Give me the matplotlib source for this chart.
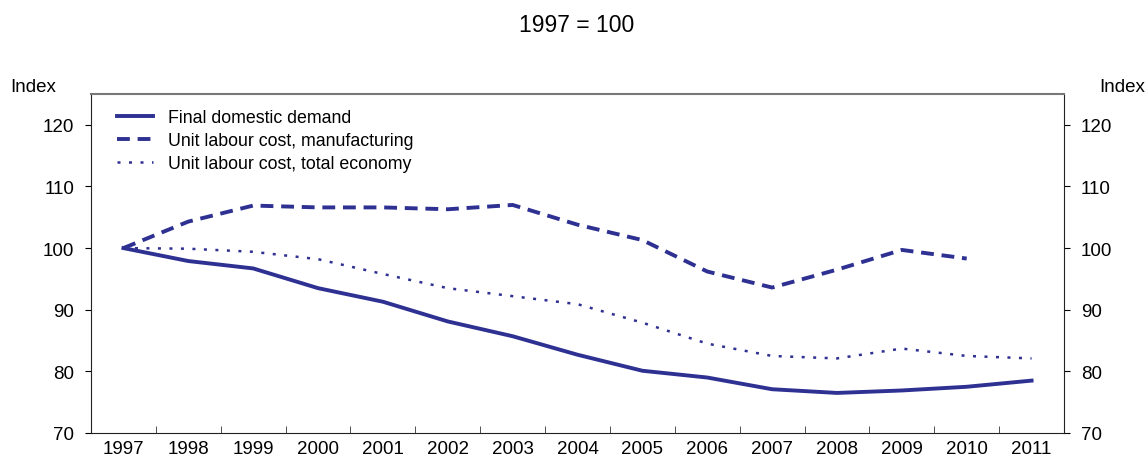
import numpy as np
import matplotlib
matplotlib.use('Agg')
import matplotlib.pyplot as plt

plt.rcParams['font.family'] = ['Liberation Sans', 'DejaVu Sans']

years = list(range(1997, 2012))
final_demand = [100, 97.9, 96.7, 93.5, 91.3, 88.1, 85.7, 82.7, 80.1, 79.0, 77.1, 76.5, 76.9, 77.5, 78.5]
ulc_manuf = [100, 104.3, 106.9, 106.6, 106.6, 106.3, 107.0, 103.8, 101.3, 96.2, 93.6, 96.5, 99.7, 98.3]
ulc_total = [100, 99.9, 99.4, 98.2, 95.8, 93.5, 92.2, 90.9, 87.9, 84.5, 82.5, 82.1, 83.7, 82.5, 82.1]

col = '#2e3192'
fs = 13.5

fig = plt.figure(figsize=(11.47, 4.56), dpi=100)
ax = fig.add_axes([91/1147, 1-434/456, (1064-91)/1147, (434-95)/456])

ax.plot(years, final_demand, color=col, lw=2.8, label='Final domestic demand')
ax.plot(years[:len(ulc_manuf)], ulc_manuf, color=col, lw=2.8, dashes=(3.3, 2.0),
        label='Unit labour cost, manufacturing')
ax.plot(years, ulc_total, color=col, lw=1.8, dashes=(1.2, 3.4), label='Unit labour cost, total economy')

ax.set_xlim(1996.5, 2011.5)
ax.set_ylim(70, 125)
ax.set_xticks(years)
ax.set_xticklabels([str(y) for y in years], fontsize=fs)
ax.set_xticks(np.arange(1997.5, 2011, 1), minor=True)
ax.tick_params(axis='x', which='major', length=0, pad=5)
ax.tick_params(axis='x', which='minor', direction='in', length=5, color='#333333')
ax.set_yticks([70, 80, 90, 100, 110, 120])
ax.tick_params(axis='y', which='major', direction='out', length=4, labelsize=fs,
               left=True, right=True, labelleft=True, labelright=True, pad=8)
for side in ['left', 'bottom', 'right']:
    ax.spines[side].set_color('#222222')
ax.spines['top'].set_color('#777777')
ax.spines['top'].set_linewidth(1.5)

ax.legend(loc='upper left', frameon=False, fontsize=12.8, handlelength=2.05,
          handletextpad=0.85, labelspacing=0.33, bbox_to_anchor=(0.012, 0.997),
          borderaxespad=0.4)

fig.text(577/1147, 1-25/456, '1997 = 100', ha='center', va='center', fontsize=16.5)
fig.text(10/1147, 1-88/456, 'Index', ha='left', va='center', fontsize=fs)
fig.text(1145/1147, 1-88/456, 'Index', ha='right', va='center', fontsize=fs)

fig.savefig('out.png', dpi=100)
